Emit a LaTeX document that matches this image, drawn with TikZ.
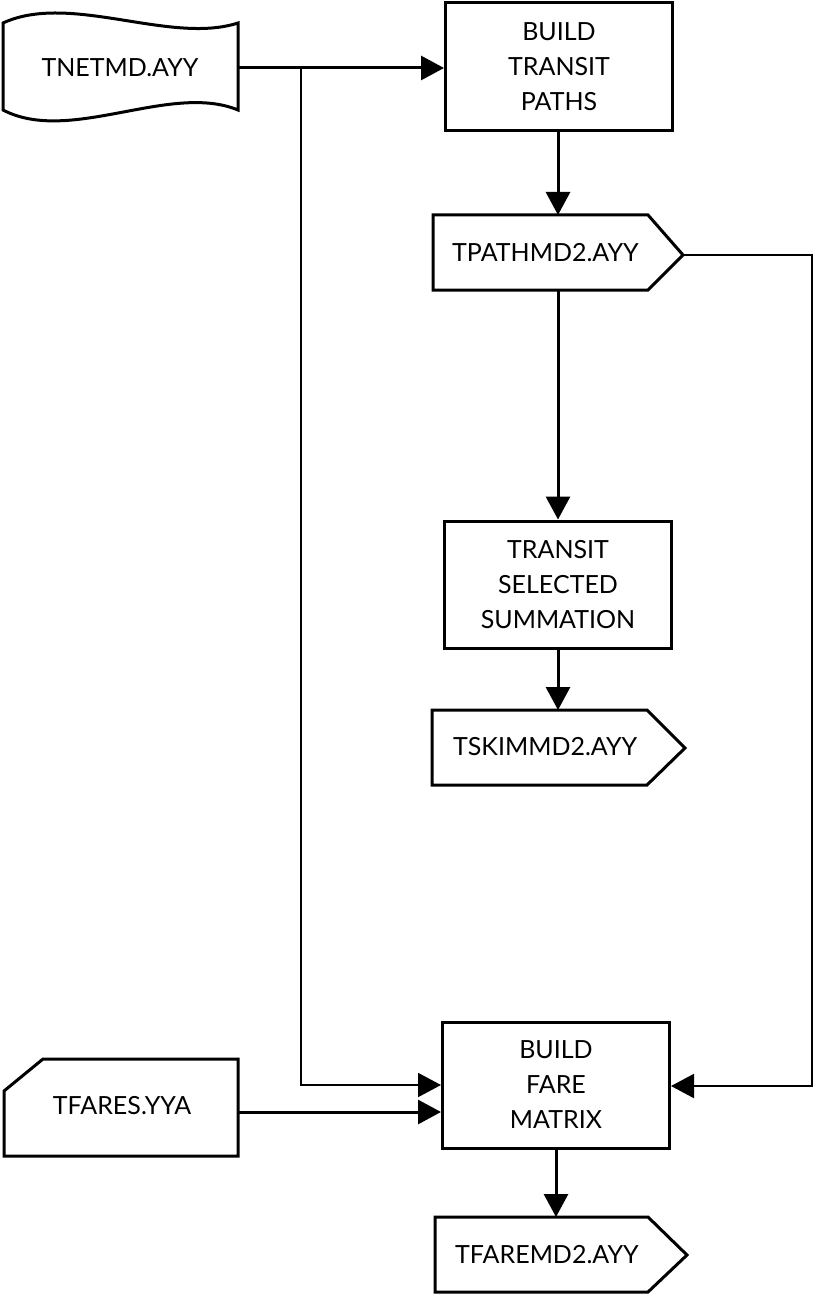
\documentclass[tikz,border=0pt]{standalone}
\usepackage{fontspec}
\setmainfont{Lato}
\usetikzlibrary{arrows.meta}
\begin{document}
\begin{tikzpicture}[x=1pt,y=-1pt,
  txt/.style={font=\fontsize{25}{35}\selectfont, inner sep=0pt, align=center},
  proc/.style={draw, line width=3pt, minimum width=227pt, inner sep=0pt, align=center, font=\fontsize{25}{35}\selectfont},
  outline/.style={draw, line width=3pt, line join=miter},
  conn/.style={line width=3pt},
  thinconn/.style={line width=2pt},
  arr/.style={-{Triangle[length=23pt,width=24pt]}}]
\useasboundingbox (0,0) rectangle (817,1297);

% input tape
\draw[outline] (3,23) .. controls (70,-8) and (170,45) .. (238,23) -- (238,110)
   .. controls (170,82) and (70,145) .. (3,110) -- cycle;
\node[txt] (tnet) at (120,68) {TNETMD.AYY};
\coordinate (tnetOut) at (238,68);

% process 1
\node[proc, minimum height=128pt] (bp) at (559,67) {BUILD\\TRANSIT\\PATHS};

% file TPATHMD2
\draw[outline] (433,215) -- (648,215) -- (683,255) -- (648,290) -- (433,290) -- cycle;
\node[txt, anchor=west] (tpath) at (452,253) {TPATHMD2.AYY};
\coordinate (tpathTop) at (558,215);
\coordinate (tpathTip) at (683,255);
\coordinate (tpathBot) at (558,290);

% process 2
\node[proc, minimum height=127pt] (ts) at (558,584.5) {TRANSIT\\SELECTED\\SUMMATION};

% file TSKIMMD2
\draw[outline] (432,710) -- (647,710) -- (685,748) -- (647,785) -- (432,785) -- cycle;
\node[txt, anchor=west] (tskim) at (453,747) {TSKIMMD2.AYY};
\coordinate (tskimTop) at (558,710);

% card TFARES
\draw[outline] (43,1059) -- (238,1059) -- (238,1156) -- (4,1156) -- (4,1091) -- cycle;
\node[txt] (tfares) at (122,1106) {TFARES.YYA};
\coordinate (tfaresOut) at (238,1112);

% process 3
\node[proc, minimum height=126pt] (bf) at (556,1085) {BUILD\\FARE\\MATRIX};

% file TFAREMD2
\draw[outline] (435,1217) -- (648,1217) -- (687,1255) -- (648,1292) -- (435,1292) -- cycle;
\node[txt, anchor=west] (tfare) at (455,1255) {TFAREMD2.AYY};
\coordinate (tfareTop) at (556,1217);

% connectors
\draw[conn,arr] (tnetOut) -- (tnetOut -| bp.west);
\coordinate (j1) at (301,68);
\coordinate (j2) at (301,1085);
\draw[thinconn,arr] (j1) -- (j2) -- (j2 -| bf.west);
\draw[conn,arr] (tfaresOut) -- (tfaresOut -| bf.west);
\draw[conn,arr] (bp.south -| tpathTop) -- (tpathTop);
\draw[conn,arr] (tpathBot) -- (ts.north -| tpathBot);
\draw[conn,arr] (ts.south -| tskimTop) -- (tskimTop);
\coordinate (r1) at (812,255);
\coordinate (r2) at (812,1086);
\draw[thinconn,arr] (tpathTip) -- (r1) -- (r2) -- (r2 -| bf.east);
\draw[conn,arr] (bf.south -| tfareTop) -- (tfareTop);
\end{tikzpicture}
\end{document}
